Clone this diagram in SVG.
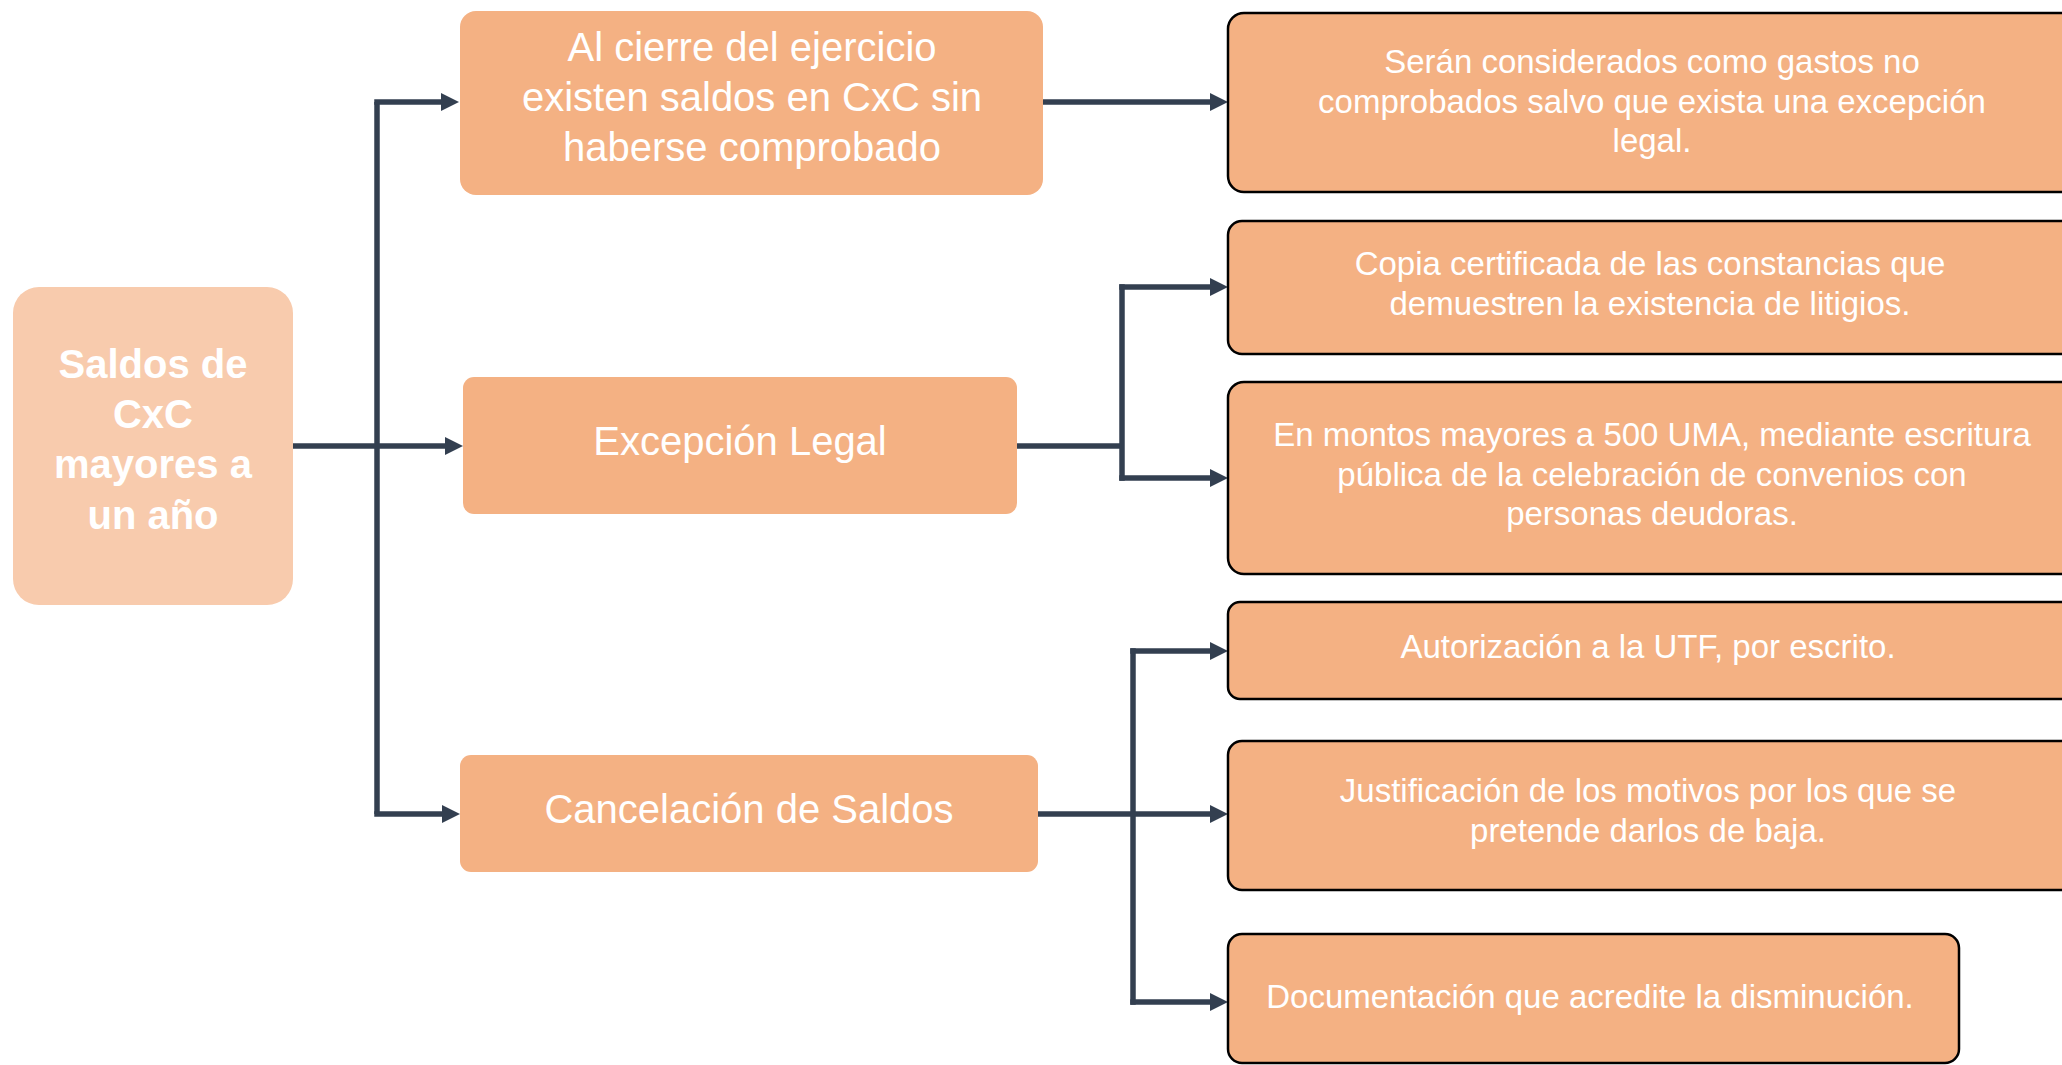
<svg xmlns="http://www.w3.org/2000/svg" width="2062" height="1065" viewBox="0 0 2062 1065">
  <style>
    .root { fill: #F8CBAD; }
    .mid { fill: #F4B183; }
    .leaf { fill: #F4B183; stroke: #000000; stroke-width: 2.5; }
    .conn { fill: none; stroke: #333F50; stroke-width: 5.5; }
    .t { font-family: "Liberation Sans", Arial, sans-serif; fill: #FFFFFF; text-anchor: middle; }
    .tb { font-weight: bold; font-size: 40px; }
    .tm { font-size: 40px; }
    .tl { font-size: 33px; }
  </style>
  <defs>
    <marker id="arr" viewBox="0 0 18 18" refX="1" refY="9" markerWidth="18" markerHeight="18" markerUnits="userSpaceOnUse" orient="auto">
      <path d="M0,0 L18,9 L0,18 z" fill="#333F50"/>
    </marker>
  </defs>
  <rect width="2062" height="1065" fill="#FFFFFF"/>

  <g id="connectors">
    <path class="conn" d="M377,814 V102"/>
    <path class="conn" d="M374.25,102 H442" marker-end="url(#arr)"/>
    <path class="conn" d="M293,446 H446" marker-end="url(#arr)"/>
    <path class="conn" d="M374.25,814 H443" marker-end="url(#arr)"/>
    <path class="conn" d="M1043,102 H1211" marker-end="url(#arr)"/>
    <path class="conn" d="M1017,446 H1122"/>
    <path class="conn" d="M1122,284.25 V480.75"/>
    <path class="conn" d="M1119.25,287 H1211" marker-end="url(#arr)"/>
    <path class="conn" d="M1119.25,478 H1211" marker-end="url(#arr)"/>
    <path class="conn" d="M1038,814 H1133"/>
    <path class="conn" d="M1133,648.25 V1004.75"/>
    <path class="conn" d="M1130.25,651 H1211" marker-end="url(#arr)"/>
    <path class="conn" d="M1133,814 H1211" marker-end="url(#arr)"/>
    <path class="conn" d="M1130.25,1002 H1211" marker-end="url(#arr)"/>
  </g>

  <g id="node-root">
    <rect class="root" x="13" y="287" width="280" height="318" rx="26" ry="26"/>
    <text class="t tb" x="153" y="378">Saldos de</text>
    <text class="t tb" x="153" y="428">CxC</text>
    <text class="t tb" x="153" y="478">mayores a</text>
    <text class="t tb" x="153" y="529">un año</text>
  </g>

  <g id="node-cierre">
    <rect class="mid" x="460" y="11" width="583" height="184" rx="16" ry="16"/>
    <text class="t tm" x="752" y="61">Al cierre del ejercicio</text>
    <text class="t tm" x="752" y="111">existen saldos en CxC sin</text>
    <text class="t tm" x="752" y="161">haberse comprobado</text>
  </g>

  <g id="node-excepcion">
    <rect class="mid" x="463" y="377" width="554" height="137" rx="11" ry="11"/>
    <text class="t tm" x="740" y="455">Excepción Legal</text>
  </g>

  <g id="node-cancelacion">
    <rect class="mid" x="460" y="755" width="578" height="117" rx="11" ry="11"/>
    <text class="t tm" x="749" y="823">Cancelación de Saldos</text>
  </g>

  <g id="node-gastos">
    <rect class="leaf" x="1228" y="13" width="848" height="179" rx="16" ry="16"/>
    <text class="t tl" x="1652" y="73">Serán considerados como gastos no</text>
    <text class="t tl" x="1652" y="113">comprobados salvo que exista una excepción</text>
    <text class="t tl" x="1652" y="152">legal.</text>
  </g>

  <g id="node-copia">
    <rect class="leaf" x="1228" y="221" width="848" height="133" rx="14" ry="14"/>
    <text class="t tl" x="1650" y="275">Copia certificada de las constancias que</text>
    <text class="t tl" x="1650" y="315">demuestren la existencia de litigios.</text>
  </g>

  <g id="node-montos">
    <rect class="leaf" x="1228" y="382" width="848" height="192" rx="16" ry="16"/>
    <text class="t tl" x="1652" y="446">En montos mayores a 500 UMA, mediante escritura</text>
    <text class="t tl" x="1652" y="486">pública de la celebración de convenios con</text>
    <text class="t tl" x="1652" y="525">personas deudoras.</text>
  </g>

  <g id="node-autorizacion">
    <rect class="leaf" x="1228" y="602" width="848" height="97" rx="12" ry="12"/>
    <text class="t tl" x="1648" y="658">Autorización a la UTF, por escrito.</text>
  </g>

  <g id="node-justificacion">
    <rect class="leaf" x="1228" y="741" width="848" height="149" rx="14" ry="14"/>
    <text class="t tl" x="1648" y="802">Justificación de los motivos por los que se</text>
    <text class="t tl" x="1648" y="842">pretende darlos de baja.</text>
  </g>

  <g id="node-documentacion">
    <rect class="leaf" x="1228" y="934" width="731" height="129" rx="14" ry="14"/>
    <text class="t tl" x="1590" y="1008">Documentación que acredite la disminución.</text>
  </g>
</svg>
